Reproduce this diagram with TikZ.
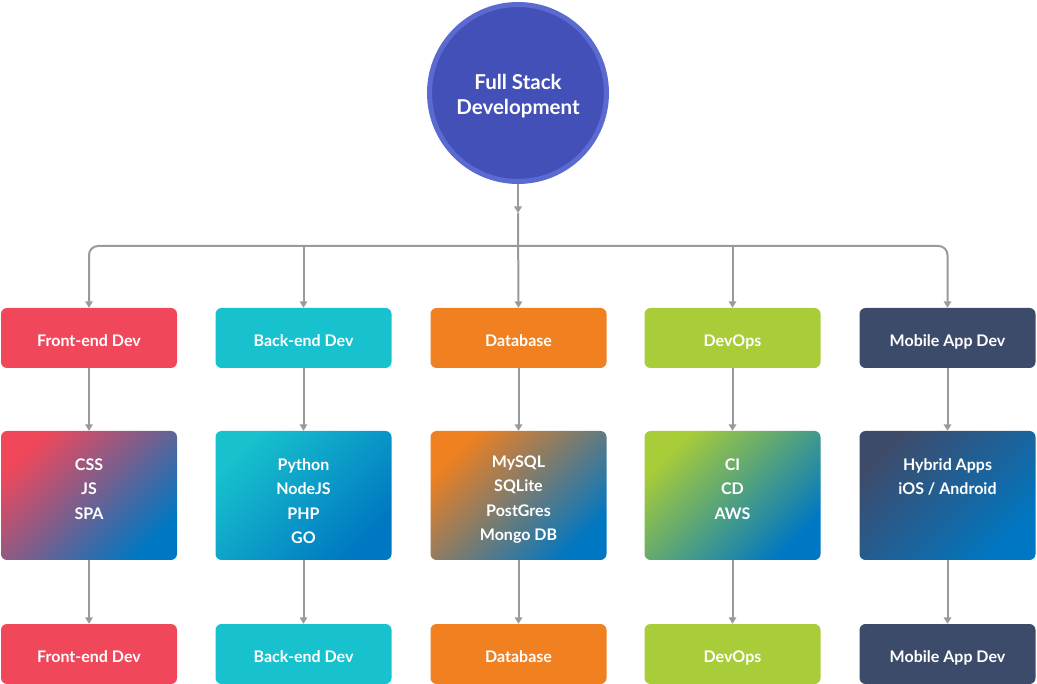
\documentclass[tikz,border=0pt]{standalone}
\usepackage{fontspec}
\setmainfont{Lato}
\usetikzlibrary{arrows.meta}
\definecolor{cred}{HTML}{F0475A}
\definecolor{cteal}{HTML}{17C1CD}
\definecolor{corange}{HTML}{F08020}
\definecolor{cgreen}{HTML}{A8CD38}
\definecolor{cnavy}{HTML}{3D4B6B}
\definecolor{cblue}{HTML}{0077C2}
\definecolor{cring}{HTML}{5B6AD0}
\definecolor{cfill}{HTML}{4350B8}
\definecolor{cline}{HTML}{9A9A9A}
\tikzset{
  catbox/.style={rounded corners=6pt, minimum width=176pt, minimum height=60pt, inner sep=0pt, text=white, font=\bfseries\fontsize{16}{19}\selectfont, text height=17.5pt, text depth=0pt, fill=#1},
  listbox/.style={rounded corners=6pt, minimum width=176pt, minimum height=129pt, inner sep=0pt, top color=#1, bottom color=cblue, shading angle=45},
  listtext/.style={anchor=north, align=center, text=white, inner sep=0pt, font=\bfseries\fontsize{16}{24.5}\selectfont},
  arr/.style={draw=cline, line width=2pt, -{Triangle[width=7.5pt,length=6.5pt]}}
}
\begin{document}
\begin{tikzpicture}[x=1pt,y=-1pt]
\useasboundingbox (0,0) rectangle (1037,684);
% top circle
\node[circle, minimum size=177pt, fill=cfill, draw=cring, line width=5pt] (fs) at (518,93) {};
\node[text=white, align=center, font=\bfseries\fontsize{20.5}{25}\selectfont] (fst) at (518,96) {Full Stack\\Development};
% row 1
\node[catbox=cred] (fe1) at (89,338) {Front-end Dev};
\node[catbox=cteal] (be1) at (303.5,338) {Back-end Dev};
\node[catbox=corange] (db1) at (518.5,338) {Database};
\node[catbox=cgreen] (dv1) at (732.5,338) {DevOps};
\node[catbox=cnavy] (mb1) at (947.5,338) {Mobile App Dev};
% row 2
\node[listbox=cred] (fe2) at (89,495.5) {};
\node[listbox=cteal] (be2) at (303.5,495.5) {};
\node[listbox=corange] (db2) at (518.5,495.5) {};
\node[listbox=cgreen] (dv2) at (732.5,495.5) {};
\node[listbox=cnavy] (mb2) at (947.5,495.5) {};
\node[listtext] (fe2t) at (89,458.3) {CSS\\JS\\SPA};
\node[listtext] (be2t) at (303.5,458.3) {Python\\NodeJS\\PHP\\GO};
\node[listtext] (db2t) at (518.5,455.3) {MySQL\\SQLite\\PostGres\\Mongo DB};
\node[listtext] (dv2t) at (732.5,458.3) {CI\\CD\\AWS};
\node[listtext] (mb2t) at (947.5,458.3) {Hybrid Apps\\iOS / Android};
% row 3
\node[catbox=cred] (fe3) at (89,654) {Front-end Dev};
\node[catbox=cteal] (be3) at (303.5,654) {Back-end Dev};
\node[catbox=corange] (db3) at (518.5,654) {Database};
\node[catbox=cgreen] (dv3) at (732.5,654) {DevOps};
\node[catbox=cnavy] (mb3) at (947.5,654) {Mobile App Dev};
% trunk
\coordinate (jt) at (518,213);
\coordinate (bar) at (518,246);
\draw[arr] (fs.south) -- (jt);
\draw[arr] (jt) -- (db1.north);
\draw[arr, rounded corners=9pt] (bar) -| (fe1.north);
\draw[arr, rounded corners=9pt] (bar) -| (mb1.north);
\draw[arr] (be1.north |- bar) -- (be1.north);
\draw[arr] (dv1.north |- bar) -- (dv1.north);
% columns
\foreach \c in {fe,be,db,dv,mb}{
  \draw[arr] (\c1.south) -- (\c2.north);
  \draw[arr] (\c2.south) -- (\c3.north);
}
\end{tikzpicture}
\end{document}
